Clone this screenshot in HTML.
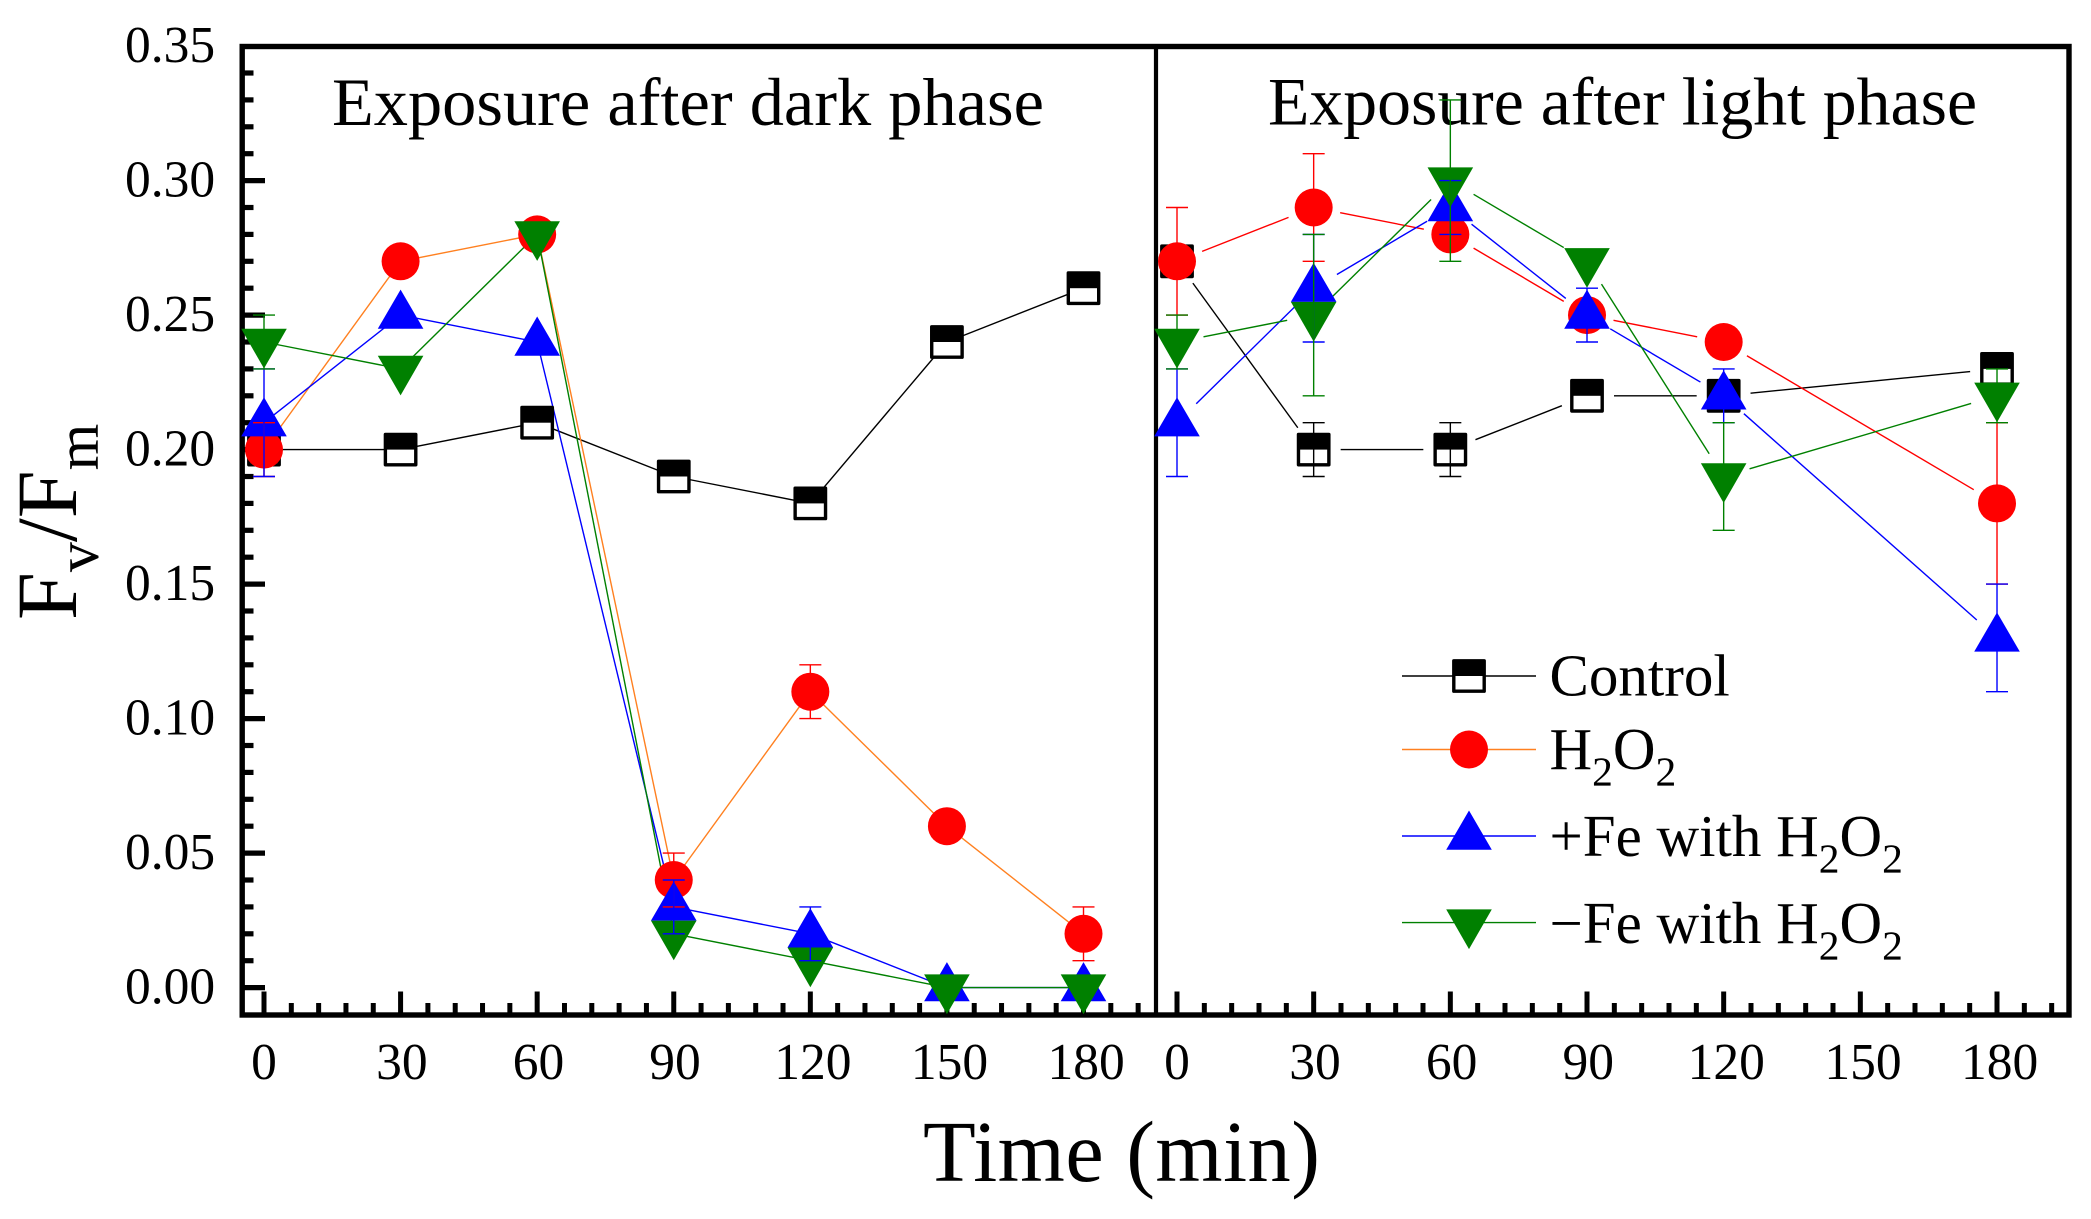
<!DOCTYPE html>
<html lang="en">
<head>
<meta charset="utf-8">
<title>Fv/Fm over time</title>
<style>
html,body{margin:0;padding:0;background:#fff;}
svg{display:block;}
text{font-family:"Liberation Serif","DejaVu Serif",serif;fill:#000;}
</style>
</head>
<body>
<svg id="chart" xmlns="http://www.w3.org/2000/svg" width="2091" height="1219" viewBox="0 0 2091 1219">
  <rect x="0" y="0" width="2091" height="1219" fill="#fff"/>
  <g id="axes"></g>
  <rect x="242.2" y="46.5" width="1826.8" height="968.5" fill="none" stroke="#000" stroke-width="5.4"/>
  <line x1="1156" y1="46" x2="1156" y2="1015" stroke="#000" stroke-width="4.2"/>
  <text x="332" y="125" font-size="68" textLength="712" lengthAdjust="spacingAndGlyphs">Exposure after dark phase</text>
  <text x="1268" y="124.5" font-size="68" textLength="709" lengthAdjust="spacingAndGlyphs">Exposure after light phase</text>
  <text x="923" y="1181" font-size="86.4" textLength="397" lengthAdjust="spacing">Time (min)</text>
  <text transform="translate(76 620) rotate(-90)" font-size="86">F<tspan font-size="60" dy="22">v</tspan><tspan dy="-22">/F</tspan><tspan font-size="60" dy="22">m</tspan></text>
  <g id="lines"></g>
  <g id="markers"></g>
  <g id="errors"></g>
  <g id="legend">
    <text x="1549.5" y="695.5" font-size="59">Control</text>
    <text x="1549.5" y="769" font-size="59">H<tspan font-size="41.5" dy="16.5">2</tspan><tspan dy="-16.5">O</tspan><tspan font-size="41.5" dy="16.5">2</tspan></text>
    <text x="1549.5" y="855.8" font-size="59">+Fe with H<tspan font-size="41.5" dy="16.5">2</tspan><tspan dy="-16.5">O</tspan><tspan font-size="41.5" dy="16.5">2</tspan></text>
    <text x="1549.5" y="943" font-size="59">−Fe with H<tspan font-size="41.5" dy="16.5">2</tspan><tspan dy="-16.5">O</tspan><tspan font-size="41.5" dy="16.5">2</tspan></text>
  </g>
</svg>
<script>
// ---- tick data ----
var yTickLabels = ['0.00','0.05','0.10','0.15','0.20','0.25','0.30','0.35'];
var xTickLabels = ['0','30','60','90','120','150','180'];

// ---- left panel: exposure after dark phase ----
var darkTimes = [0,30,60,90,120,150,180];
var darkControl = [0.20,0.20,0.21,0.19,0.18,0.24,0.26];
var darkH2O2 = [0.20,0.27,0.28,0.04,0.11,0.06,0.02];
var darkPlusFe = [0.21,0.25,0.24,0.03,0.02,0.00,0.00];
var darkMinusFe = [0.24,0.23,0.28,0.02,0.01,0.00,0.00];
var darkControlErr = [0,0,0,0,0,0,0];
var darkH2O2Err = [0.01,0,0,0.01,0.01,0,0.01];
var darkPlusFeErr = [0.02,0,0,0.01,0.01,0,0];
var darkMinusFeErr = [0.01,0,0,0,0,0,0];

// ---- right panel: exposure after light phase ----
var lightTimes = [0,30,60,90,120,180];
var lightControl = [0.27,0.20,0.20,0.22,0.22,0.23];
var lightH2O2 = [0.27,0.29,0.28,0.25,0.24,0.18];
var lightPlusFe = [0.21,0.26,0.29,0.25,0.22,0.13];
var lightMinusFe = [0.24,0.25,0.30,0.27,0.19,0.22];
var lightControlErr = [0,0.01,0.01,0,0,0];
var lightH2O2Err = [0.02,0.02,0,0,0,0.03];
var lightPlusFeErr = [0.02,0.02,0.01,0.01,0.01,0.02];
var lightMinusFeErr = [0.01,0.03,0.03,0,0.02,0.01];

var SVGNS = 'http://www.w3.org/2000/svg';
function yScale(v){ return 987.6 - v * 2690; }
function xDark(t){ return 264 + t * 4.5528; }
function xLight(t){ return 1177 + t * 4.5556; }

function mk(tag, attrs, parent){
  var e = document.createElementNS(SVGNS, tag);
  for (var k in attrs) e.setAttribute(k, attrs[k]);
  parent.appendChild(e);
  return e;
}

var gLines = document.getElementById('lines');
var gMarkers = document.getElementById('markers');
var gErrors = document.getElementById('errors');
var gAxes = document.getElementById('axes');
var gLegend = document.getElementById('legend');

function drawMarker(kind, cx, cy, parent, name){
  var el;
  if (kind === 'square') {
    el = mk('g', {}, parent);
    mk('rect', {x:cx-15.2, y:cy-15.2, width:30.4, height:30.4, fill:'#fff', stroke:'#000', 'stroke-width':3.4, 'stroke-linejoin':'round'}, el);
    mk('rect', {x:cx-15.2, y:cy-15.2, width:30.4, height:15.2, fill:'#000'}, el);
  } else if (kind === 'circle') {
    el = mk('circle', {cx:cx, cy:cy, r:19, fill:'#ff0000'}, parent);
  } else if (kind === 'up') {
    el = mk('polygon', {points:(cx)+','+(cy-25.5)+' '+(cx+22.8)+','+(cy+13.7)+' '+(cx-22.8)+','+(cy+13.7), fill:'#0000ff'}, parent);
  } else {
    el = mk('polygon', {points:(cx)+','+(cy+26.5)+' '+(cx+22.8)+','+(cy-13.2)+' '+(cx-22.8)+','+(cy-13.2), fill:'#008000'}, parent);
  }
  
  
}

function drawSeries(name, kind, lineColor, errColor, times, vals, errs, xs, gap){
  var g = mk('g', {}, gLines);
  
  
  for (var i = 0; i < times.length - 1; i++) {
    var x1 = xs(times[i]), y1 = yScale(vals[i]), x2 = xs(times[i+1]), y2 = yScale(vals[i+1]);
    var dx = x2 - x1, dy = y2 - y1, len = Math.sqrt(dx*dx + dy*dy);
    if (len <= 2 * gap) continue;
    var ux = dx / len, uy = dy / len;
    mk('line', {x1:x1+ux*gap, y1:y1+uy*gap, x2:x2-ux*gap, y2:y2-uy*gap, stroke:lineColor, 'stroke-width':1.4}, g);
  }
  for (var j = 0; j < times.length; j++) {
    drawMarker(kind, xs(times[j]), yScale(vals[j]), gMarkers, name + '-point-' + times[j]);
  }
}

function drawErrors(name, color, times, vals, errs, xs){
  for (var j = 0; j < times.length; j++) {
    if (!errs[j]) continue;
    var g = mk('g', {stroke:color, 'stroke-width':1.4}, gErrors);
    
    
    var x = xs(times[j]), top = yScale(vals[j] + errs[j]), bot = yScale(vals[j] - errs[j]);
    mk('line', {x1:x, y1:top, x2:x, y2:bot}, g);
    mk('line', {x1:x-11, y1:top, x2:x+11, y2:top}, g);
    mk('line', {x1:x-11, y1:bot, x2:x+11, y2:bot}, g);
  }
}

var darkSets = [
  ['dark-control','square','#000000','#000000',darkControl,darkControlErr],
  ['dark-h2o2','circle','#ff8020','#ff0000',darkH2O2,darkH2O2Err],
  ['dark-plus-fe','up','#0000ff','#0000ff',darkPlusFe,darkPlusFeErr],
  ['dark-minus-fe','down','#008000','#008000',darkMinusFe,darkMinusFeErr]
];
var lightSets = [
  ['light-control','square','#000000','#000000',lightControl,lightControlErr],
  ['light-h2o2','circle','#ff0000','#ff0000',lightH2O2,lightH2O2Err],
  ['light-plus-fe','up','#0000ff','#0000ff',lightPlusFe,lightPlusFeErr],
  ['light-minus-fe','down','#008000','#008000',lightMinusFe,lightMinusFeErr]
];
darkSets.forEach(function(s){ drawSeries(s[0],s[1],s[2],s[3],darkTimes,s[4],s[5],xDark,0); });
lightSets.forEach(function(s){ drawSeries(s[0],s[1],s[2],s[3],lightTimes,s[4],s[5],xLight,27); });
darkSets.forEach(function(s){ drawErrors(s[0],s[3],darkTimes,s[4],s[5],xDark); });
lightSets.forEach(function(s){ drawErrors(s[0],s[3],lightTimes,s[4],s[5],xLight); });

// ---- y axis ----
yTickLabels.forEach(function(lab, i){
  var v = parseFloat(lab), y = yScale(v);
  if (i < yTickLabels.length - 1) {
    var t = mk('line', {x1:242, y1:y, x2:265, y2:y, stroke:'#000', 'stroke-width':5.2}, gAxes);
    
    
    for (var m = 1; m < 5; m++) {
      var my = yScale(v + m * 0.01);
      var mt = mk('line', {x1:242, y1:my, x2:253.5, y2:my, stroke:'#000', 'stroke-width':5.2}, gAxes);
      
      
    }
  }
  var tx = mk('text', {x:125, y:y+15.7, 'font-size':51.5}, gAxes);
  tx.textContent = lab;
  
  
});

// ---- x axes ----
[xDark, xLight].forEach(function(xs, p){
  xTickLabels.forEach(function(lab){
    var v = parseFloat(lab), x = xs(v);
    var t = mk('line', {x1:x, y1:1015, x2:x, y2:991.5, stroke:'#000', 'stroke-width':5}, gAxes);
    
    
    for (var m = 1; m < 5; m++) {
      var mv = v + m * 6;
      if (mv > 192) break;
      var mt = mk('line', {x1:xs(mv), y1:1015, x2:xs(mv), y2:1003, stroke:'#000', 'stroke-width':5}, gAxes);
      
      
    }
    var labelShift = (lab.length - 1) * 1.3;
    var tx = mk('text', {x:x + labelShift, y:1079, 'font-size':51.5, 'text-anchor':'middle'}, gAxes);
    tx.textContent = lab;
    
    
  });
});

// ---- legend swatches ----
var legendKinds = ['square','circle','up','down'];
var legendColors = ['#000000','#ff8020','#0000ff','#008000'];
var legendRows = [676, 749.5, 836, 922.6];
legendKinds.forEach(function(k, i){
  var l = mk('line', {x1:1402, y1:legendRows[i], x2:1536, y2:legendRows[i], stroke:legendColors[i], 'stroke-width':1.4}, gLegend);
  
  
  drawMarker(k, 1469, legendRows[i], gLegend, 'legend-marker-' + k);
});
</script>
</body>
</html>
